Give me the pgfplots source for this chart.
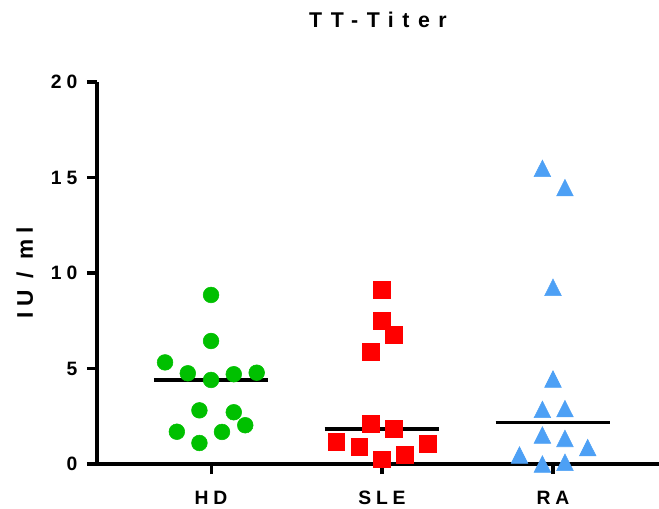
\documentclass[border=0pt]{standalone}
\usepackage{fontspec}
\setmainfont{Liberation Sans}[LetterSpace=25]
\newfontfamily\titlefont{Liberation Sans}[LetterSpace=40]
\usepackage{pgfplots}
\pgfplotsset{compat=1.18}

\definecolor{hdgreen}{RGB}{0,192,0}
\definecolor{slered}{RGB}{255,0,0}
\definecolor{rablue}{RGB}{77,160,245}

\begin{document}
\begin{tikzpicture}
  % reference is 659 x 508 px; 1px = 0.75pt
  \begin{axis}[
      scale only axis,
      width=421.5pt, height=286.5pt,
      xmin=-0.667, xmax=2.62,
      ymin=0, ymax=20,
      clip=false,
      axis x line=bottom, axis y line=left,
      axis line style={-, line width=2.3pt},
      tick align=outside,
      major tick length=7.5pt,
      tick style={line width=2.3pt, black},
      xtick={0,1,2},
      xticklabels={HD,SLE,RA},
      ytick={0,5,10,15,20},
      /pgf/number format/assume math mode=true,
      tick label style={font=\fontsize{14.5}{17}\selectfont\bfseries},
      xticklabel style={anchor=base, yshift=-22.5pt},
      yticklabel style={xshift=-3.75pt},
      ylabel={IU / ml},
      ylabel style={font=\fontsize{17}{20}\selectfont\bfseries,
        at={(axis description cs:0,0.5)}, anchor=center, yshift=54pt},
      title={TT-Titer},
      title style={font=\fontsize{16}{19}\selectfont\titlefont\bfseries,
        at={(axis description cs:0.5,1)}, anchor=center, yshift=40.5pt},
    ]
    \coordinate (bl) at (rel axis cs:0,0);
    \coordinate (tr) at (rel axis cs:1,1);
    % medians
    \addplot[black, line width=2.5pt] coordinates {(-0.335,4.40) (0.335,4.40)};
    \addplot[black, line width=2.5pt] coordinates {(0.665,1.83) (1.335,1.83)};
    \addplot[black, line width=2.5pt] coordinates {(1.665,2.19) (2.335,2.19)};

    % HD
    \addplot[only marks, mark=*, mark size=5.9pt, color=hdgreen,
      mark options={draw=none, fill=hdgreen}] coordinates {
      (0,8.85) (0,6.44) (-0.269,5.32) (-0.136,4.75) (0,4.40) (0.133,4.70)
      (0.267,4.78) (-0.068,2.81) (0.133,2.71) (-0.2,1.69) (-0.068,1.10)
      (0.064,1.68) (0.2,2.03)
    };
    % SLE
    \addplot[only marks, mark=square*, mark size=6.25pt, color=slered,
      mark options={draw=none, fill=slered}] coordinates {
      (1.0,9.11) (1.0,7.50) (1.067,6.75) (0.934,5.88) (0.934,2.11)
      (1.067,1.83) (0.733,1.15) (0.867,0.91) (1.0,0.25) (1.133,0.47)
      (1.268,1.05)
    };
    % RA
    \addplot[only marks, mark=triangle*, mark size=8.3pt, color=rablue,
      mark options={draw=none, fill=rablue, xscale=0.87, yshift=-2.1pt}] coordinates {
      (1.938,15.48) (2.07,14.47) (2.0,9.25) (2.0,4.45) (1.938,2.86)
      (2.07,2.90) (1.938,1.52) (2.07,1.34) (2.203,0.86) (1.804,0.47)
      (1.938,0.0) (2.07,0.09)
    };
  \end{axis}
  \pgfresetboundingbox
  \path[use as bounding box] ([xshift=-72.75pt, yshift=-33pt]bl) rectangle ([yshift=61.5pt]tr);
\end{tikzpicture}
\end{document}
